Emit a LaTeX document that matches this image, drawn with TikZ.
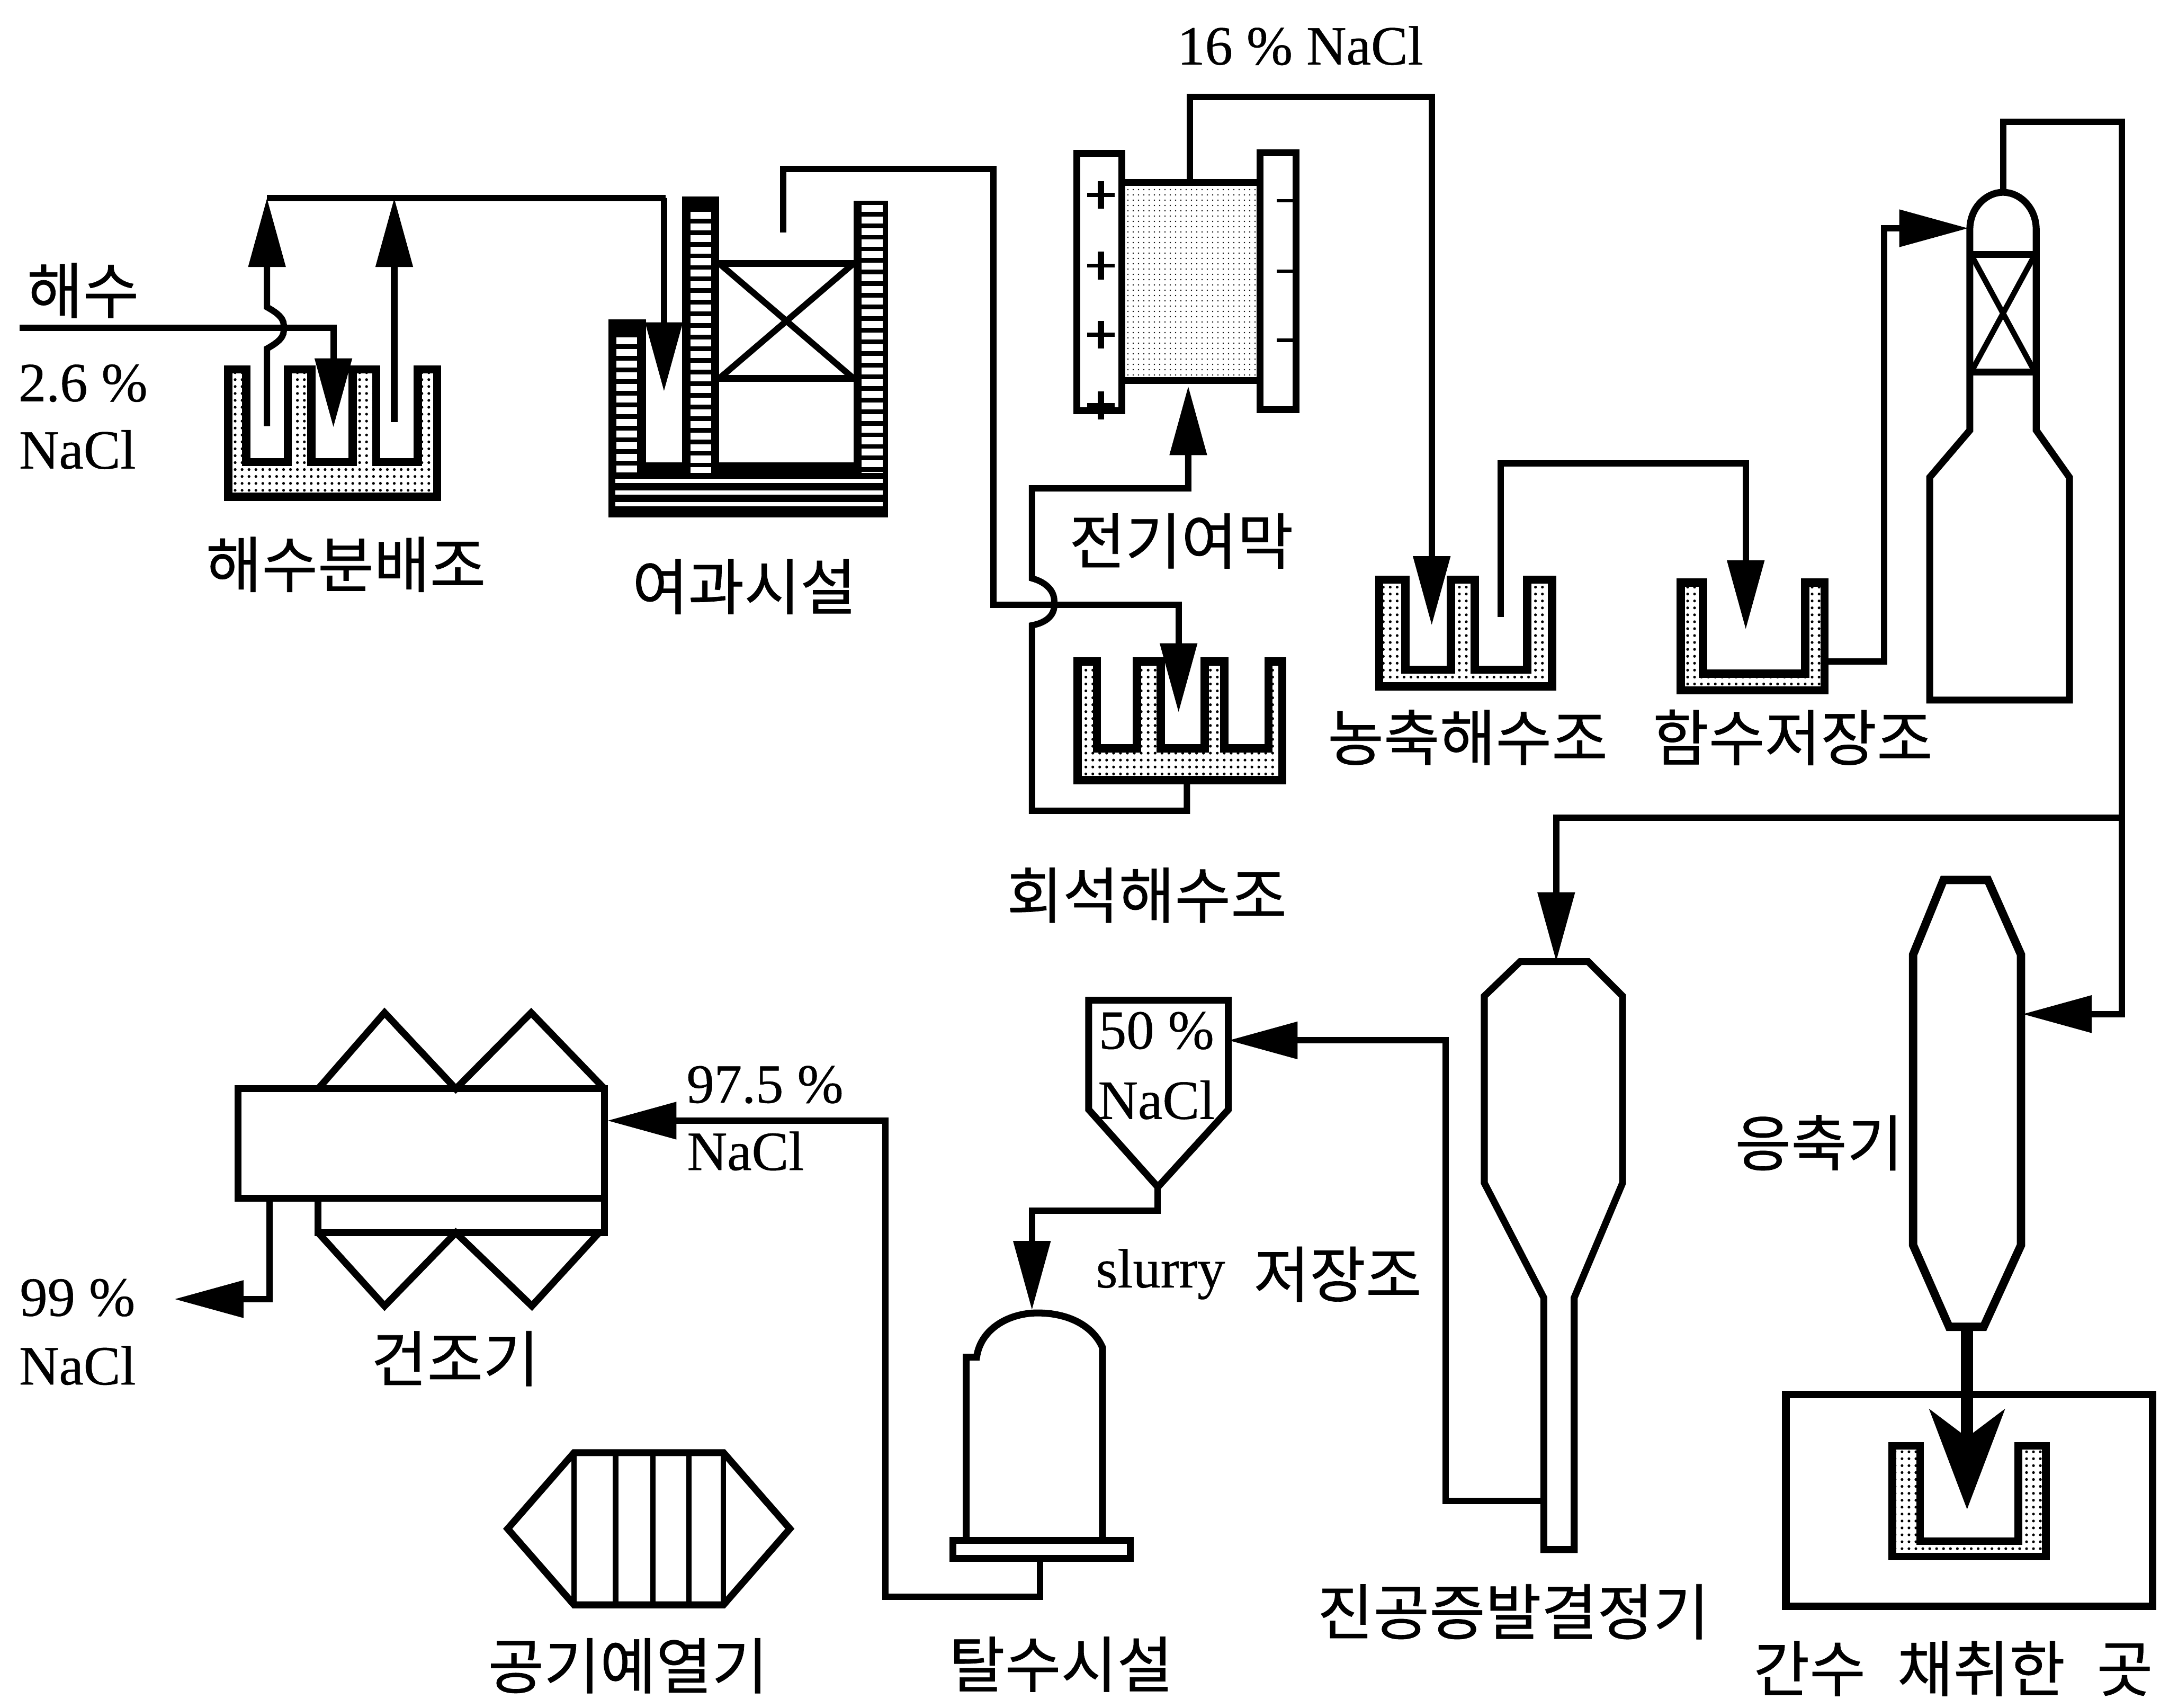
\documentclass[tikz,border=0pt]{standalone}
\usepackage{fontspec}
\setmainfont[FakeBold=0.5]{Liberation Serif}
\newfontfamily\krfont[FakeBold=0.6]{Noto Sans CJK KR}
\usetikzlibrary{arrows.meta,patterns.meta}
\tikzset{
  pipe/.style={draw=black,line width=4.6pt,line join=miter,line cap=butt},
  tipbig/.style={-{Triangle[length=50pt,width=26pt]}},
  wall/.style={draw=black,line width=5pt,line join=miter},
  comb/.style={draw=black,line width=6pt,line join=miter,pattern={Dots[radius=1pt,distance=5pt]}},
  fine/.style={pattern={Dots[radius=.55pt,distance=4pt]}},
  kr/.style={font=\krfont\fontsize{44}{50}\selectfont,inner sep=0pt,text=black},
  lat/.style={font=\fontsize{40}{46}\selectfont,inner sep=0pt,text=black},
  ladderwhite/.style={draw=white,line width=15pt,dash pattern=on 5pt off 3.4pt},
}
\begin{document}
\begin{tikzpicture}[x=1pt,y=-1pt]
\useasboundingbox (0,0) rectangle (1568,1234.4);
\fill[white] (0,0) rectangle (1568,1234.4);

% ---------- seawater distribution tank
\path[comb] (165,267) -- (165,359) -- (316,359) -- (316,267) -- (302,267) -- (302,334) -- (272,334) -- (272,267) -- (255,267) -- (255,334) -- (225,334) -- (225,267) -- (208,267) -- (208,334) -- (178,334) -- (178,267) -- cycle;

% ---------- filter
\fill (440,231) rectangle (467,345);
\fill (493,142) rectangle (520,345);
\fill (617,145) rectangle (642,345);
\fill (440,334) rectangle (642,374);
\draw[ladderwhite] (453,244) -- (453,342);
\draw[ladderwhite] (506.5,153) -- (506.5,342);
\draw[ladderwhite] (630.5,148) -- (630.5,342);
\foreach \yy in {347.5,356,364.5}{\draw[white,line width=3pt] (445,\yy) -- (638,\yy);}
\draw[line width=5pt] (520,190.5) -- (617,190.5) (520,273.5) -- (617,273.5);
\draw[line width=4.5pt] (520,190.5) -- (617,273.5) (617,190.5) -- (520,273.5);

% ---------- electro-membrane
\path[fine] (811,131) rectangle (909,275);
\draw[wall] (778.5,111) rectangle (811,297);
\draw[wall] (911,110.5) rectangle (937,296);
\draw[line width=5pt] (811,132) -- (909,132) (811,275) -- (909,275);
\foreach \yy in {141,192,242,293}{
  \draw[line width=3pt] (786,\yy) -- (806,\yy);
  \draw[line width=4.5pt] (796,\yy-10) -- (796,\yy+10);
}
\foreach \yy in {145,196,246}{\draw[line width=2.5pt] (923,\yy) -- (935,\yy);}

% ---------- dilution tank
\path[comb] (779,478) -- (779,564) -- (927,564) -- (927,478) -- (917,478) -- (917,541) -- (885,541) -- (885,478) -- (871,478) -- (871,541) -- (839,541) -- (839,478) -- (822,478) -- (822,541) -- (793,541) -- (793,478) -- cycle;

% ---------- concentrated seawater tank
\path[comb] (997,419) -- (997,496) -- (1122,496) -- (1122,419) -- (1104,419) -- (1104,484) -- (1066,484) -- (1066,419) -- (1049,419) -- (1049,484) -- (1016,484) -- (1016,419) -- cycle;

% ---------- brine storage tank
\path[comb] (1215,421) -- (1215,499) -- (1319,499) -- (1319,421) -- (1305,421) -- (1305,487) -- (1231,487) -- (1231,421) -- cycle;

% ---------- packed column
\draw[wall] (1424,311) -- (1424,166) .. controls (1424,150) and (1436,139) .. (1448,139) .. controls (1460,139) and (1472,150) .. (1472,166) -- (1472,311) -- (1496,345) -- (1496,506) -- (1395,506) -- (1395,345) -- cycle;
\draw[line width=5pt] (1424,184) -- (1472,184) (1424,269) -- (1472,269);
\draw[line width=4pt] (1426,186) -- (1470,267) (1470,186) -- (1426,267);

% ---------- vacuum evaporative crystallizer
\draw[wall] (1099,695) -- (1148,695) -- (1173,720) -- (1173,855) -- (1138,938) -- (1138,1120) -- (1116,1120) -- (1116,938) -- (1073,855) -- (1073,720) -- cycle;

% ---------- condenser
\draw[wall,line width=6pt] (1405,636) -- (1437,636) -- (1461,690) -- (1461,900) -- (1434,959) -- (1409,959) -- (1383,900) -- (1383,690) -- cycle;

% ---------- bittern site
\draw[wall,line width=5.5pt] (1291,1008) rectangle (1556,1161);
\path[comb,line width=5.5pt] (1368,1045) -- (1368,1125) -- (1479,1125) -- (1479,1045) -- (1459,1045) -- (1459,1114) -- (1388,1114) -- (1388,1045) -- cycle;

% ---------- slurry tank
\draw[wall] (787,723) -- (888,723) -- (888,802) -- (837,858) -- (787,802) -- cycle;

% ---------- centrifuge
\draw[wall] (698.5,1112) -- (698.5,981) -- (706,981) .. controls (709,960) and (730,949) .. (750,949) .. controls (772,949) and (790,958) .. (797,974) -- (797,1112);
\draw[wall] (689,1113.5) rectangle (817,1126.5);

% ---------- dryer
\draw[wall] (230,787) -- (278,732) -- (329.5,787) -- (384,732) -- (437,787);
\draw[wall] (230,891) -- (278,944) -- (329.5,891) -- (384.5,944) -- (433,891);
\draw[wall] (230,866) rectangle (437,891);
\draw[wall] (172,787) rectangle (437,866);

% ---------- air preheater
\draw[wall] (367,1105) -- (415,1050) -- (523,1050) -- (571,1105) -- (523,1160) -- (415,1160) -- cycle;
\foreach \xx in {415,445,472,498,523}{\draw[line width=4pt] (\xx,1050) -- (\xx,1160);}

% ---------- named connector ends
\coordinate (inA) at (14,237);
\coordinate (inT) at (241,309);
\coordinate (upAs) at (193,308);
\coordinate (upAt) at (193,143);
\coordinate (upBs) at (285,305);
\coordinate (upBt) at (285,143);
\coordinate (header) at (481,143);
\coordinate (filtT) at (480,283);
\coordinate (filtOut) at (566,168);
\coordinate (dilT) at (852,515);
\coordinate (dilOut) at (858,566);
\coordinate (memIn) at (859,279);
\coordinate (memOut) at (860,131);
\coordinate (concT) at (1035,452);
\coordinate (concOut) at (1085,446);
\coordinate (brT) at (1262,455);
\coordinate (brOut) at (1322,478);
\coordinate (colIn) at (1423,165);
\coordinate (colOut) at (1448,139);
\coordinate (trunk) at (1534,591);
\coordinate (crT) at (1125,695);
\coordinate (condIn) at (1462,733);
\coordinate (crOut) at (1116,1085);
\coordinate (slIn) at (888,752);
\coordinate (slOut) at (837,858);
\coordinate (cenIn) at (746,947);
\coordinate (cenOut) at (752,1126);
\coordinate (dryIn) at (439,810);
\coordinate (dryOut) at (195,866);
\coordinate (prod) at (126,939);
\coordinate (condOut) at (1422,959);
\coordinate (bitT) at (1422,1091);

% ---------- connectors
\draw[pipe,tipbig] (inA) -- (241,237) -- (inT);
\draw[pipe,tipbig] (upAs) -- (193,252) .. controls (202,247) and (206,243) .. (205,237) .. controls (206,231) and (202,227) .. (193,222) -- (upAt);
\draw[pipe,tipbig] (upBs) -- (upBt);
\draw[pipe] (193,143) -- (header);
\draw[pipe,tipbig] (header) -- (filtT |- header) -- (filtT);
\draw[pipe,tipbig] (filtOut) -- (566,122) -- (718,122) -- (718,437) -- (852,437) -- (dilT);
\draw[pipe,tipbig] (dilOut) -- (858,586) -- (746,586) -- (746,452) .. controls (757,450) and (763,444) .. (762,436) .. controls (763,428) and (757,421) .. (746,418) -- (746,353) -- (859,353) -- (memIn);
\draw[pipe,tipbig] (memOut) -- (860,70) -- (1035,70) -- (concT);
\draw[pipe,tipbig] (concOut) -- (1085,335) -- (1262,335) -- (brT);
\draw[pipe,tipbig] (brOut) -- (1362,478) -- (1362,165) -- (colIn);
\draw[pipe] (colOut) -- (1448,88) -- (1534,88) -- (trunk);
\draw[pipe,tipbig] (trunk) -- (1125,591) -- (crT);
\draw[pipe,tipbig] (trunk) -- (1534,733) -- (condIn);
\draw[pipe,tipbig] (crOut) -- (1045,1085) -- (1045,752) -- (slIn);
\draw[pipe,tipbig] (slOut) -- (837,875) -- (746,875) -- (cenIn);
\draw[pipe,tipbig] (cenOut) -- (752,1154) -- (640,1154) -- (640,810) -- (dryIn);
\draw[pipe,tipbig] (dryOut) -- (195,939) -- (prod);
\draw[line width=9pt,-{Stealth[length=72pt,width=54pt,inset=20pt]}] (condOut) -- (bitT);

% ---------- labels
\node[kr,anchor=center] (tSea) at (60,210) {해수};
\node[lat] (tA) at (60,277) {2.6 \%};
\node[lat] (tB) at (56,325) {NaCl};
\node[kr] (tC) at (250,408) {해수분배조};
\node[kr] (tD) at (538,424) {여과시설};
\node[lat] (tE) at (940,33) {16 \% NaCl};
\node[kr] (tF) at (854,391) {전기여막};
\node[kr] (tG) at (1061,533) {농축해수조};
\node[kr] (tH) at (1296,533) {함수저장조};
\node[kr] (tI) at (829,647) {회석해수조};
\node[kr] (tJ) at (1315,826) {응축기};
\node[lat] (tK) at (553,784) {97.5 \%};
\node[lat] (tL) at (539,832) {NaCl};
\node[lat] (tM) at (836,745) {50 \%};
\node[lat] (tN) at (836,795) {NaCl};
\node[lat] (tO) at (839,921) {slurry};
\node[kr] (tP) at (967,921) {저장조};
\node[lat] (tQ) at (56,938) {99 \%};
\node[lat] (tR) at (56,987) {NaCl};
\node[kr] (tS) at (329,982) {건조기};
\node[kr] (tT) at (454,1204) {공기예열기};
\node[kr] (tU) at (767,1203) {탈수시설};
\node[kr] (tV) at (1094,1165) {진공증발결정기};
\node[kr] (tW) at (1412,1206) {간수\hspace{13pt} 채취한\hspace{13pt} 곳};
\end{tikzpicture}
\end{document}
